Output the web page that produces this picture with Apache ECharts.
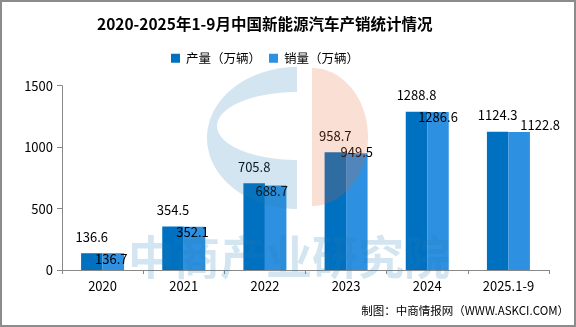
<!DOCTYPE html>
<html><head><meta charset="utf-8">
<script src="https://cdn.jsdelivr.net/npm/echarts@6/dist/echarts.min.js"></script>
<style>html,body{margin:0;padding:0;background:#fff}#c{width:576px;height:327px}</style>
</head><body><div id="c"></div>
<script>
const categories = ['2020','2021','2022','2023','2024','2025.1-9'];
const production = [136.6, 354.5, 705.8, 958.7, 1288.8, 1124.3];
const sales = [136.7, 352.1, 688.7, 949.5, 1286.6, 1122.8];
const seriesNames = ['产量（万辆）','销量（万辆）'];
const titleText = '2020-2025年1-9月中国新能源汽车产销统计情况';
const footerText = '制图：中商情报网（WWW.ASKCI.COM）';
const watermarkText = '中商产业研究院';
const salesLabelOffsets = [[-2,-1],[-2,-1],[-4,-1],[0,-8],[0,-1],[21,-13]];

const FONT = '"Noto Sans CJK SC", sans-serif';
const chart = echarts.init(document.getElementById('c'), null, {renderer:'canvas'});
const wmBlue = 'rgba(35,125,180,0.2)';
const wmRed = 'rgba(230,97,40,0.2)';

// watermark logo shapes (decoration)
function halfEllipse(cx, cy, rx, ry, a0, a1, n){
  const pts=[];
  for(let i=0;i<=n;i++){const a=a0+(a1-a0)*i/n;pts.push([cx+rx*Math.cos(a),cy+ry*Math.sin(a)]);}
  return pts;
}
const outer = halfEllipse(297,138,90,71,-Math.PI/2,-Math.PI*1.5,60);
const inner = halfEllipse(297,126,80,34,Math.PI/2,Math.PI*1.5,60);
const cShape = outer.concat(inner);
const halfDisc = halfEllipse(312,137,56,69,-Math.PI/2,Math.PI/2,60);

chart.setOption({
  animation:false,
  textStyle:{fontFamily:FONT},
  title:{text:titleText,left:92,top:11,textStyle:{fontFamily:FONT,fontSize:15.5,fontWeight:'bold',color:'#000'}},
  legend:{data:seriesNames,left:166,top:47,itemWidth:9,itemHeight:9,itemGap:8,icon:'rect',
    textStyle:{fontFamily:FONT,fontSize:12.5,color:'#000',padding:[0,0,0,1]}},
  grid:{left:62,right:27,top:85.7,bottom:57,containLabel:false},
  xAxis:{type:'category',data:categories,
    axisLine:{lineStyle:{color:'#888',width:1}},
    axisTick:{show:true,length:4,lineStyle:{color:'#888'}},
    axisLabel:{color:'#000',fontSize:13,margin:10,fontFamily:FONT}},
  yAxis:{type:'value',min:0,max:1500,interval:500,
    axisLine:{show:true,lineStyle:{color:'#888'}},
    axisTick:{show:true,length:5,lineStyle:{color:'#888'}},
    splitLine:{show:false},
    axisLabel:{color:'#000',fontSize:13,margin:9,fontFamily:FONT,formatter:v=>String(v)}},
  series:[
    {name:seriesNames[0],type:'bar',data:production,barWidth:21.5,barGap:'0%',
     itemStyle:{color:'#0070C0'},
     label:{show:true,position:'top',distance:10,color:'#000',fontSize:13,fontFamily:FONT}},
    {name:seriesNames[1],type:'bar',barWidth:21.5,barGap:'0%',
     data:sales.map((v,i)=>({value:v,label:{offset:salesLabelOffsets[i]}})),
     itemStyle:{color:'#2E90E0'},
     label:{show:true,position:'insideTop',distance:0,color:'#000',fontSize:13,fontFamily:FONT}}
  ],
  graphic:[
    {type:'polygon',z:100,silent:true,shape:{points:cShape},style:{fill:wmBlue}},
    {type:'polygon',z:100,silent:true,shape:{points:halfDisc},style:{fill:wmRed}},
    {type:'text',z:100,silent:true,left:128,top:234,style:{text:watermarkText,fill:wmBlue,font:'bold 46px "Noto Sans CJK SC"'}},
    {type:'text',z:100,silent:true,right:7,top:305,style:{text:footerText,fill:'#000',font:'11.5px "Noto Sans CJK SC"'}},
    {type:'rect',z:100,silent:true,shape:{x:1,y:1,width:574,height:325},style:{fill:'none',stroke:'#8c8c8c',lineWidth:2}}
  ]
});
</script></body></html>
